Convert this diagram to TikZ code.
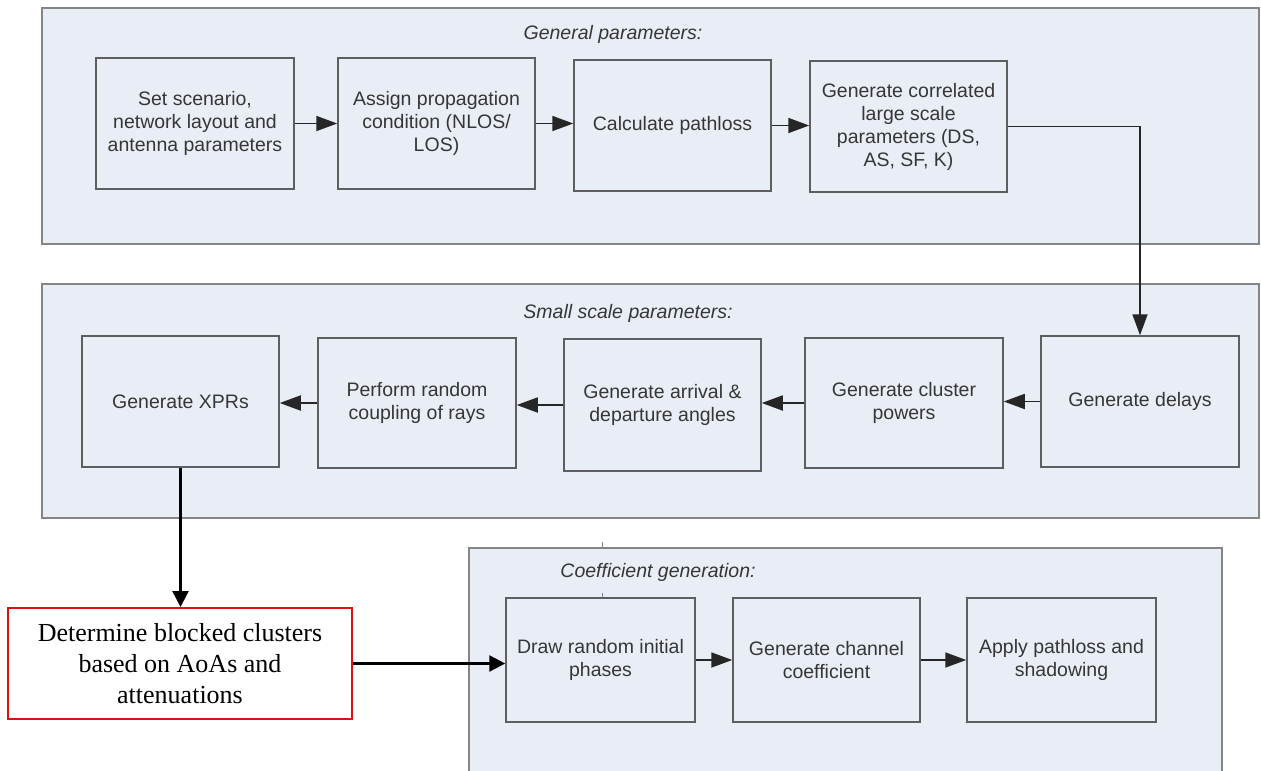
\documentclass[tikz,border=0pt]{standalone}
\usepackage{fontspec}
\setmainfont{Liberation Sans}
\newfontfamily\serifrm{Liberation Serif}
\usetikzlibrary{arrows.meta}
\definecolor{panelfill}{HTML}{E9EDF5}
\definecolor{panelline}{HTML}{858585}
\definecolor{boxline}{HTML}{5E5E5E}
\definecolor{txt}{HTML}{363636}
\definecolor{redline}{HTML}{E01010}
\tikzset{
  panel/.style={draw=panelline, line width=1.6pt, fill=panelfill, inner sep=0pt},
  stepbox/.style={draw=boxline, line width=1.5pt, inner sep=2pt, align=center, text=txt,
    font=\fontsize{19.5}{23}\selectfont},
  ptitle/.style={text=txt, font=\fontsize{19.5}{23}\selectfont\itshape, inner sep=0pt},
  redbox/.style={draw=redline, line width=2pt, fill=white, inner sep=2pt, align=center, text=black,
    font=\serifrm\fontsize{26}{31}\selectfont},
  flow/.style={draw=black!85, line width=1.8pt, -{Triangle[length=21pt,width=15pt]}},
  bold flow/.style={draw=black, line width=2.4pt, -{Triangle[length=16pt,width=16pt]}},
}
\begin{document}
\begin{tikzpicture}[x=1pt,y=-1pt]
\useasboundingbox (0,0) rectangle (1261,771);
% panels
\path[panel] (42,8) rectangle (1259,244);
\path[panel] (42,284) rectangle (1259,518);
\path[panel] (469,548) rectangle (1222,780);
\draw[panelline, line width=1pt] (602,542) -- (602,548);
\draw[panelline, line width=1pt] (602,593) -- (602,598);
\node[ptitle] (t1) at (613,34) {General parameters:};
\node[ptitle] (t2) at (628,313) {Small scale parameters:};
\node[ptitle] (t3) at (658,572) {Coefficient generation:};
% general parameters
\node[stepbox, minimum width=198pt, minimum height=131pt] (b1) at (195,123.5) {Set scenario,\\network layout and\\antenna parameters};
\node[stepbox, minimum width=197pt, minimum height=131pt] (b2) at (436.5,123.5) {Assign propagation\\condition (NLOS/\\LOS)};
\node[stepbox, minimum width=197pt, minimum height=131pt] (b3) at (672.5,125.5) {Calculate pathloss};
\node[stepbox, minimum width=197pt, minimum height=131pt] (b4) at (908.5,126.5) {Generate correlated\\large scale\\parameters (DS,\\AS, SF, K)};
% small scale parameters
\node[stepbox, minimum width=198pt, minimum height=131pt] (s5) at (1140,401.5) {Generate delays};
\node[stepbox, minimum width=198pt, minimum height=130pt] (s4) at (904,403) {Generate cluster\\powers};
\node[stepbox, minimum width=197pt, minimum height=132pt] (s3) at (662.5,405) {Generate arrival \&\\departure angles};
\node[stepbox, minimum width=198pt, minimum height=130pt] (s2) at (417,403) {Perform random\\coupling of rays};
\node[stepbox, minimum width=197pt, minimum height=131pt] (s1) at (180.5,401.5) {Generate XPRs};
% coefficient generation
\node[stepbox, minimum width=189pt, minimum height=124pt] (c1) at (600.5,660) {Draw random initial\\phases};
\node[stepbox, minimum width=187pt, minimum height=124pt] (c2) at (826.5,660) {Generate channel\\coefficient};
\node[stepbox, minimum width=189pt, minimum height=124pt] (c3) at (1061.5,660) {Apply pathloss and\\shadowing};
% red box
\node[redbox, minimum width=344pt, minimum height=111pt] (rb) at (180,663.5) {Determine blocked clusters\\based on AoAs and\\attenuations};
% connectors
\draw[flow] (b1.east) -- (b1.east -| b2.west);
\draw[flow] (b2.east) -- (b2.east -| b3.west);
\draw[flow] (b3.east) -- (b3.east -| b4.west);
\draw[flow] (b4.east) -| (s5.north);
\draw[flow] (s5.west) -- (s5.west -| s4.east);
\draw[flow] (s4.west) -- (s4.west -| s3.east);
\draw[flow] (s3.west) -- (s3.west -| s2.east);
\draw[flow] (s2.west) -- (s2.west -| s1.east);
\draw[bold flow] (s1.south) -- (s1.south |- rb.north);
\draw[bold flow] (rb.east) -- (rb.east -| c1.west);
\draw[flow] (c1.east) -- (c1.east -| c2.west);
\draw[flow] (c2.east) -- (c2.east -| c3.west);
\end{tikzpicture}
\end{document}
